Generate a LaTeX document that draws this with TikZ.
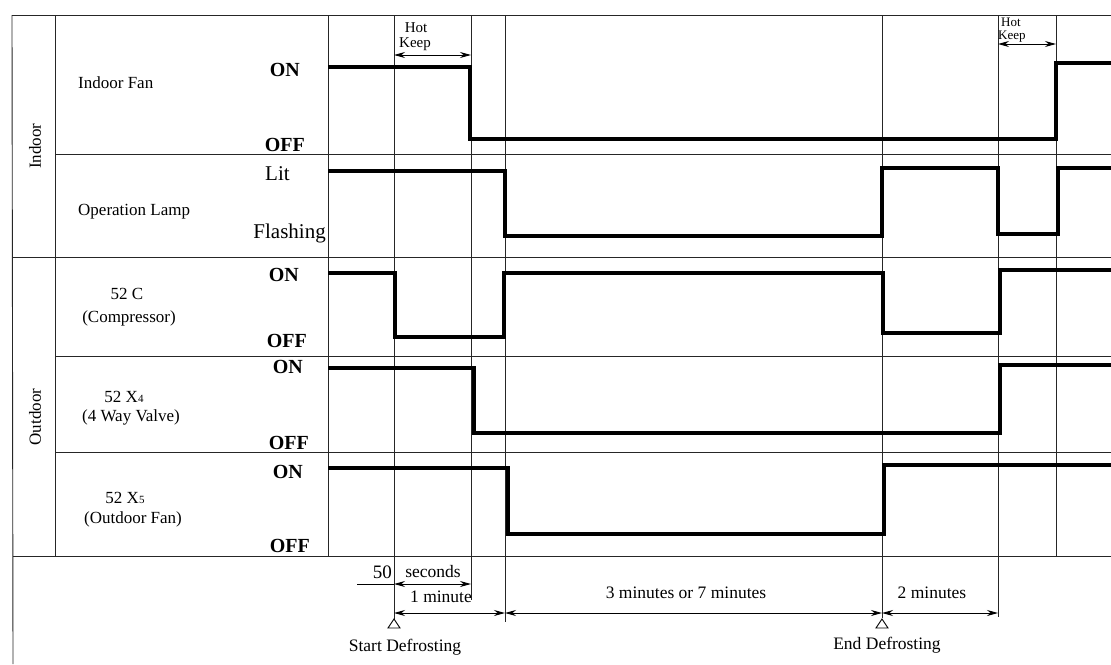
\documentclass[tikz,border=0pt]{standalone}
\usepackage{fontspec}
\setmainfont{Liberation Serif}
\usetikzlibrary{arrows.meta}

\begin{document}
\begin{tikzpicture}[x=1pt, y=-1pt, >={Stealth[length=11pt, width=6pt]},
    grid/.style={line width=0.9pt, black!85},
    wave/.style={line width=3.4pt, line join=miter},
    dim/.style={<->, line width=1pt},
    rowlabel/.style={font=\fontsize{17}{19}\selectfont, anchor=base, inner sep=0pt},
    level/.style={font=\bfseries\fontsize{20}{20}\selectfont, anchor=base east, inner sep=0pt},
    lamp/.style={font=\fontsize{21}{21}\selectfont, inner sep=0pt},
    note/.style={font=\fontsize{15}{15}\selectfont, inner sep=0pt},
    timing/.style={font=\fontsize{17.5}{18}\selectfont, anchor=base, inner sep=0pt},
    defmark/.style={draw, line width=0.9pt, fill=white}]
    \useasboundingbox (0,0) rectangle (1111,664);

    % frame and rows
    \draw[grid] (12,15) -- (1111,15);
    \draw[grid] (12,15) -- (13,664);
    \draw[grid] (55,15) -- (55,556);
    \draw[grid] (328,15) -- (328,556);
    \draw[grid] (55,154) -- (1111,154);
    \draw[grid] (12,257) -- (1111,257);
    \draw[grid] (55,356) -- (1111,356);
    \draw[grid] (55,452) -- (1111,452);
    \draw[grid] (13,556) -- (1111,556);
    \foreach \x/\b in {394/620, 471/600, 505/622, 882/618, 998/617, 1056/556}
        \draw[grid] (\x,15) -- (\x,\b);

    % groups
    \node[rowlabel, anchor=center, rotate=90] (indoor) at (35,146) {Indoor};
    \node[rowlabel, anchor=center, rotate=90] (outdoor) at (35,417) {Outdoor};

    % row labels
    \node[rowlabel, anchor=base west] (fan) at (78,88) {Indoor Fan};
    \node[rowlabel, anchor=base west] (lamplbl) at (78,215) {Operation Lamp};
    \node[rowlabel] (comp) at (127,299) {52 C};
    \node[rowlabel] (compb) at (129,322) {(Compressor)};
    \node[rowlabel] (valve) at (124,402) {52 X{\fontsize{11}{11}\selectfont 4}};
    \node[rowlabel] (valveb) at (131,421) {(4 Way Valve)};
    \node[rowlabel] (ofan) at (125,503) {52 X{\fontsize{11}{11}\selectfont 5}};
    \node[rowlabel] (ofanb) at (133,523) {(Outdoor Fan)};

    % levels
    \node[level] (fanon) at (300,76) {ON};
    \node[level] (fanoff) at (305,151) {OFF};
    \node[lamp, anchor=base west] (lit) at (265,180) {Lit};
    \node[lamp, anchor=base east] (flash) at (326,238) {Flashing};
    \node[level] (compon) at (299,281) {ON};
    \node[level] (compoff) at (307,347) {OFF};
    \node[level] (valveon) at (303,373) {ON};
    \node[level] (valveoff) at (309,449) {OFF};
    \node[level] (ofanon) at (303,478) {ON};
    \node[level] (ofanoff) at (310,552) {OFF};

    % signals
    \draw[wave] (328,67) -| (470,139) -| (1056,63) -- (1111,63);
    \draw[wave] (328,171) -| (505,236) -| (882,168) -| (998,234) -| (1058,168) -- (1111,168);
    \draw[wave] (328,273) -| (395,337) -| (504,273) -| (883,333) -| (1000,270) -- (1111,270);
    \draw[wave] (328,368) -| (474,433) -| (1000,365) -- (1111,365);
    \draw[wave] (328,468) -| (508,534) -| (884,465) -- (1111,465);

    % hot keep
    \node[note, anchor=base] (hot1) at (416,32) {Hot};
    \node[note, anchor=base] (keep1) at (415,47) {Keep};
    \draw[dim] (394,55) -- (471,55);
    \node[note, anchor=base west, font=\fontsize{13}{13}\selectfont] (hot2) at (1001,26) {Hot};
    \node[note, anchor=base west, font=\fontsize{13}{13}\selectfont] (keep2) at (998,39) {Keep};
    \draw[dim] (998,44) -- (1056,44);

    % timing
    \node[timing, anchor=base east, font=\fontsize{19}{19}\selectfont] (fifty) at (392,578) {50};
    \node[timing] (sec) at (433,577) {seconds};
    \draw[line width=1pt] (357,584) -- (394,584);
    \draw[dim] (394,584) -- (471,584);
    \node[timing] (onemin) at (441,602) {1 minute};
    \draw[dim] (394,613) -- (505,613);
    \node[timing] (threemin) at (686,598) {3 minutes or 7 minutes};
    \draw[dim] (505,613) -- (882,613);
    \node[timing] (twomin) at (932,598) {2 minutes};
    \draw[dim] (882,613) -- (998,613);

    % start and end marks
    \draw[defmark] (394,619) -- (400,628) -- (388,628) -- cycle;
    \draw[defmark] (882,619) -- (888,628) -- (876,628) -- cycle;
    \node[timing] (start) at (405,651) {Start Defrosting};
    \node[timing] (finish) at (887,649) {End Defrosting};
\end{tikzpicture}
\end{document}
